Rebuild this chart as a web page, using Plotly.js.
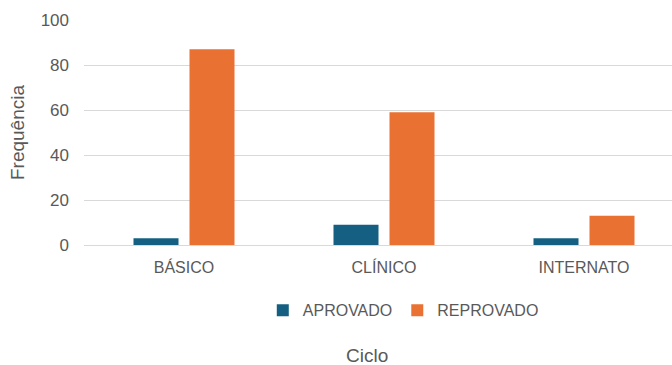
<!DOCTYPE html>
<html>
<head>
<meta charset="utf-8">
<script src="https://cdn.plot.ly/plotly-3.0.1.min.js"></script>
<style>html,body{margin:0;padding:0;background:#fff;}#chart{width:672px;height:365px;}</style>
</head>
<body>
<div id="chart"></div>
<script>
const categories = ["BÁSICO", "CLÍNICO", "INTERNATO"];
const aprovado = [3, 9, 3];
const reprovado = [87, 59, 13];
const yTicks = [0, 20, 40, 60, 80, 100];

const fam = "Liberation Sans, Arial, sans-serif";
const font = {family: fam, size: 16, color: "#595959"};

const data = [
  {type: "bar", name: "APROVADO", x: categories, y: aprovado, marker: {color: "#156082"}},
  {type: "bar", name: "REPROVADO", x: categories, y: reprovado, marker: {color: "#E97132"}}
];

const layout = {
  width: 672, height: 365,
  margin: {l: 84, r: 0, t: 20, b: 120},
  paper_bgcolor: "#fff", plot_bgcolor: "#fff",
  font: font,
  barmode: "group",
  bargap: 0.44,
  bargroupgap: 0.196,
  showlegend: true,
  legend: {orientation: "h", x: 0.543, xanchor: "center", y: -0.29, yanchor: "middle", font: font, itemwidth: 30, traceorder: "normal"},
  xaxis: {
    range: [-0.5, 2.44], showgrid: false, zeroline: false, showline: false,
    ticks: "", tickfont: font, ticklabelstandoff: 11, fixedrange: true
  },
  yaxis: {
    range: [0, 100], tickvals: yTicks, showgrid: true, gridcolor: "#d9d9d9", gridwidth: 1,
    zeroline: true, zerolinecolor: "#d9d9d9", zerolinewidth: 1,
    ticks: "", tickfont: {family: fam, size: 17, color: "#595959"}, ticklabelstandoff: 14, showline: false,
    title: {text: "Frequência", font: {family: fam, size: 19, color: "#595959"}, standoff: 10}
  },
  annotations: [
    {text: "Ciclo", xref: "paper", yref: "paper", x: 0.481, y: -0.489, xanchor: "center", yanchor: "middle",
     showarrow: false, font: {family: fam, size: 19, color: "#595959"}}
  ]
};

Plotly.newPlot("chart", data, layout, {displayModeBar: false, staticPlot: true});
</script>
</body>
</html>
